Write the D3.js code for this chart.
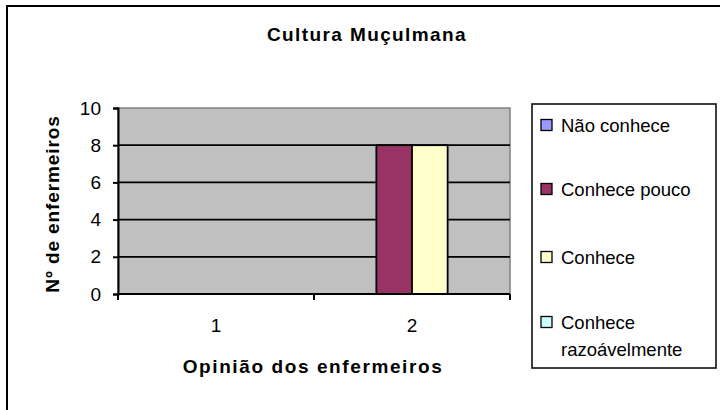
<!DOCTYPE html>
<html lang="pt">
<head>
<meta charset="UTF-8">
<title>Cultura Muçulmana</title>
<script src="https://d3js.org/d3.v7.min.js"></script>
<style>
  body { margin: 0; background: #fff; }
  svg { display: block; font-family: "Liberation Sans", Arial, sans-serif; }
</style>
</head>
<body>
<svg id="chart" width="720" height="410"></svg>
<script>
// chart data
const categories = ["1", "2"];
const seriesNames = ["Não conhece", "Conhece pouco", "Conhece", "Conhece razoávelmente"];
const naoConhece = [0, 0];
const conhecePouco = [0, 8];
const conhece = [0, 8];
const conheceRazoavel = [0, 0];
const yTicks = [0, 2, 4, 6, 8, 10];
const seriesColors = ["#9999FF", "#993366", "#FFFFCC", "#CCFFFF"];

const seriesValues = [naoConhece, conhecePouco, conhece, conheceRazoavel];

const svg = d3.select("#chart");

// outer frame (right and bottom edges fall outside the picture)
svg.append("rect")
    .attr("x", 7).attr("y", 6)
    .attr("width", 740).attr("height", 430)
    .attr("fill", "#fff")
    .attr("stroke", "#000")
    .attr("stroke-width", 2);

const plot = { left: 118, right: 510, top: 108, bottom: 294 };

const x = d3.scaleBand()
    .domain(categories)
    .range([plot.left, plot.right]);

// excel style: gap width 150% of one bar
const barW = x.bandwidth() / (seriesNames.length + 1.5);
const xs = d3.scaleBand()
    .domain(seriesNames)
    .range([barW * 0.75, barW * 0.75 + barW * seriesNames.length]);

const y = d3.scaleLinear()
    .domain([0, 10])
    .range([plot.bottom, plot.top]);

// plot background
svg.append("rect")
    .attr("x", plot.left).attr("y", plot.top)
    .attr("width", plot.right - plot.left)
    .attr("height", plot.bottom - plot.top)
    .attr("fill", "#C0C0C0")
    .attr("stroke", "#808080")
    .attr("stroke-width", 1.5);

// gridlines
svg.append("g")
    .selectAll("line")
    .data(yTicks.filter(d => d > 0 && d < 10))
    .enter().append("line")
    .attr("x1", plot.left).attr("x2", plot.right)
    .attr("y1", d => y(d)).attr("y2", d => y(d))
    .attr("stroke", "#000")
    .attr("stroke-width", 1.8);

// bars
const rows = [];
categories.forEach((c, i) => {
    seriesNames.forEach((s, j) => {
        rows.push({ cat: c, name: s, value: seriesValues[j][i], color: seriesColors[j] });
    });
});

svg.append("g")
    .selectAll("rect")
    .data(rows.filter(d => d.value > 0))
    .enter().append("rect")
    .attr("x", d => x(d.cat) + xs(d.name))
    .attr("y", d => y(d.value))
    .attr("width", xs.bandwidth())
    .attr("height", d => y(0) - y(d.value))
    .attr("fill", d => d.color)
    .attr("stroke", "#000")
    .attr("stroke-width", 1.8);

// y axis
const yAxis = svg.append("g")
    .attr("transform", "translate(" + plot.left + ",0)")
    .call(d3.axisLeft(y).tickValues(yTicks).tickSize(5).tickPadding(12));
yAxis.select(".domain").attr("stroke", "#000").attr("stroke-width", 2);
yAxis.selectAll(".tick line").attr("stroke", "#000").attr("stroke-width", 2);
yAxis.selectAll("text").attr("font-size", 19).attr("fill", "#000");

// x axis
const xAxis = svg.append("g")
    .attr("transform", "translate(0," + plot.bottom + ")")
    .call(d3.axisBottom(x).tickSize(0).tickPadding(25));
xAxis.select(".domain").remove();
xAxis.append("line")
    .attr("x1", plot.left).attr("x2", plot.right)
    .attr("stroke", "#000").attr("stroke-width", 2);
xAxis.selectAll(".sep")
    .data(d3.range(categories.length + 1))
    .enter().append("line")
    .attr("class", "sep")
    .attr("x1", i => plot.left + i * x.step())
    .attr("x2", i => plot.left + i * x.step())
    .attr("y1", 0).attr("y2", 6)
    .attr("stroke", "#000").attr("stroke-width", 2);
xAxis.selectAll("text").attr("font-size", 19).attr("fill", "#000");

// titles
svg.append("text")
    .attr("x", 367).attr("y", 41)
    .attr("text-anchor", "middle")
    .attr("font-size", 19).attr("font-weight", "bold")
    .attr("letter-spacing", 1.4)
    .text("Cultura Muçulmana");

svg.append("text")
    .attr("x", 313).attr("y", 373)
    .attr("text-anchor", "middle")
    .attr("font-size", 19).attr("font-weight", "bold")
    .attr("letter-spacing", 1.6)
    .text("Opinião dos enfermeiros");

svg.append("text")
    .attr("transform", "translate(59,204) rotate(-90)")
    .attr("text-anchor", "middle")
    .attr("font-size", 19).attr("font-weight", "bold")
    .attr("letter-spacing", 0.9)
    .text("Nº de enfermeiros");

// legend
svg.append("rect")
    .attr("x", 532).attr("y", 104)
    .attr("width", 184).attr("height", 264)
    .attr("fill", "#fff")
    .attr("stroke", "#000")
    .attr("stroke-width", 1.5);

const legendY = [125, 189, 257, 322];
const leg = svg.append("g")
    .selectAll("g")
    .data(seriesNames)
    .enter().append("g")
    .attr("transform", (d, i) => "translate(541," + legendY[i] + ")");

leg.append("rect")
    .attr("x", 0).attr("y", -5.5)
    .attr("width", 11).attr("height", 11)
    .attr("fill", (d, i) => seriesColors[i])
    .attr("stroke", "#000")
    .attr("stroke-width", 1.3);

leg.append("text")
    .attr("x", 20).attr("y", 7)
    .attr("font-size", 18.5)
    .each(function(d) {
        const t = d3.select(this);
        if (d === "Conhece razoávelmente") {
            t.append("tspan").attr("x", 20).text("Conhece");
            t.append("tspan").attr("x", 20).attr("dy", 27).text("razoávelmente");
        } else {
            t.text(d);
        }
    });
</script>
</body>
</html>
